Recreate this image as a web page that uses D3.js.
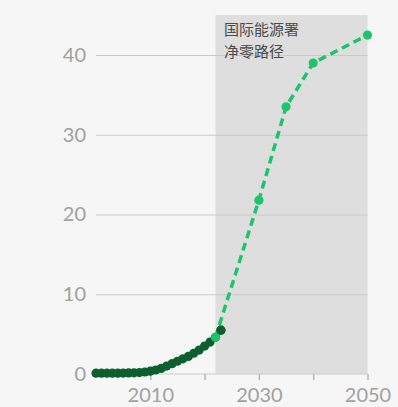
<!DOCTYPE html>
<html>
<head>
<meta charset="utf-8">
<script src="https://cdn.jsdelivr.net/npm/d3@7"></script>
<style>
  html, body { margin: 0; padding: 0; background: #f6f6f6; }
  svg { display: block; }
</style>
</head>
<body>
<script>
// Historical values, 2000–2023
const histYears = [2000,2001,2002,2003,2004,2005,2006,2007,2008,2009,2010,2011,2012,2013,2014,2015,2016,2017,2018,2019,2020,2021,2022,2023];
const histValues = [0.1,0.1,0.1,0.1,0.1,0.12,0.13,0.15,0.18,0.25,0.35,0.5,0.7,1.0,1.3,1.6,1.9,2.2,2.6,3.0,3.5,4.0,4.6,5.5];

// Net-zero pathway
const nzeYears = [2022, 2030, 2035, 2040, 2050];
const nzeValues = [4.6, 21.8, 33.5, 39.0, 42.5];

const yTicks = [0, 10, 20, 30, 40];
const xTickYears = [2010, 2020, 2030, 2040, 2050];
const xLabelYears = [2010, 2030, 2050];
const shadeStart = 2022;
const annotation = ["国际能源署", "净零路径"];

const W = 398, H = 407;
const svg = d3.select("body").append("svg").attr("width", W).attr("height", H);

const x = d3.scaleLinear().domain([2000, 2050]).range([96, 367.5]);
const y = d3.scaleLinear().domain([0, 40]).range([374, 55]);

const font = "Lato, 'DejaVu Sans', sans-serif";

// shaded projection period
svg.append("rect")
  .attr("x", x(shadeStart)).attr("y", 15)
  .attr("width", x(2050) - x(shadeStart))
  .attr("height", y(0) - 15)
  .attr("fill", "#dedede");

// gridlines + y labels
const yAxis = d3.axisLeft(y).tickValues(yTicks).tickSize(-(x(2050) - x(2000))).tickPadding(10).tickFormat(d3.format("d"));
const gy = svg.append("g").attr("transform", `translate(${x(2000)},0)`).call(yAxis);
gy.select(".domain").remove();
gy.selectAll(".tick line").attr("stroke", "#c9c9c9").attr("stroke-width", 1.2);
gy.selectAll(".tick text").attr("fill", "#a0a0a0").style("font-family", font).style("font-size", "20px");
gy.selectAll(".tick").filter(d => d === 0).select("line").remove();

// x axis
const xAxis = d3.axisBottom(x).tickValues(xTickYears).tickSize(6).tickPadding(8)
  .tickFormat(d => xLabelYears.includes(d) ? String(d) : "");
const gx = svg.append("g").attr("transform", `translate(0,${y(0)})`).call(xAxis);
gx.select(".domain").attr("stroke", "#c9c9c9").attr("stroke-width", 1.2).attr("d", `M${x(2000)},0H${x(2050)}`);
gx.selectAll(".tick line").attr("stroke", "#b5b5b5").attr("stroke-width", 1.5);
gx.selectAll(".tick text").attr("fill", "#a0a0a0").style("font-family", font).style("font-size", "20px");

// annotation, one line per text element
svg.append("g").selectAll("text").data(annotation).join("text")
  .attr("x", 224).attr("y", (d, i) => 35 + i * 22)
  .attr("fill", "#4a4a4a")
  .style("font-family", "'Noto Sans CJK SC', sans-serif").style("font-size", "15px")
  .text(d => d);

// historical dots
const hist = histYears.map((yr, i) => ({ yr, v: histValues[i] }));
svg.append("g").selectAll("circle").data(hist).join("circle")
  .attr("cx", d => x(d.yr)).attr("cy", d => y(d.v)).attr("r", 4.6)
  .attr("fill", "#0c5f2f");

// pathway line + dots
const nze = nzeYears.map((yr, i) => ({ yr, v: nzeValues[i] }));
svg.append("path").datum(nze)
  .attr("d", d3.line().x(d => x(d.yr)).y(d => y(d.v)))
  .attr("fill", "none").attr("stroke", "#1ec46c").attr("stroke-width", 3.5)
  .attr("stroke-dasharray", "8,5");
svg.append("g").selectAll("circle").data(nze).join("circle")
  .attr("cx", d => x(d.yr)).attr("cy", d => y(d.v)).attr("r", 4.6)
  .attr("fill", "#1ec46c");

// latest historical point drawn on top
svg.append("circle").attr("cx", x(2023)).attr("cy", y(5.5)).attr("r", 4.6).attr("fill", "#0c5f2f");
</script>
</body>
</html>
